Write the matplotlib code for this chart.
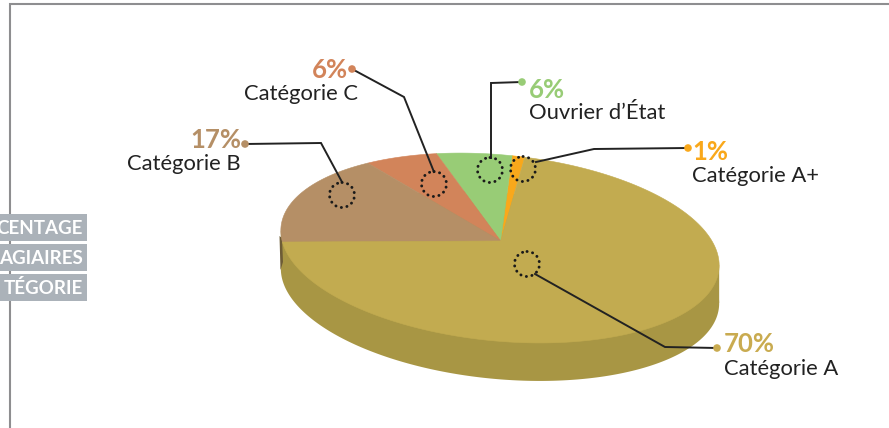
"""Faux 3D pie: share of trainees per category."""

import numpy as np
import matplotlib
matplotlib.use("Agg")
import matplotlib.pyplot as plt
from matplotlib.patches import Circle, Rectangle

# ─── Data ─────────────────────────────────────────────────────────────────────
categories = ["Catégorie A+", "Ouvrier d’État", "Catégorie C", "Catégorie B", "Catégorie A"]
values = [1, 6, 6, 17, 70]
pct_labels = ["1%", "6%", "6%", "17%", "70%"]
box_labels = ["CENTAGE", "AGIAIRES", "TÉGORIE"]

# ─── Style ────────────────────────────────────────────────────────────────────
top_colors = ["#f9a81b", "#98cc76", "#d2845a", "#b58f66", "#c2ab50"]
pct_colors = ["#f9a81b", "#98cc76", "#d2845a", "#b58f66", "#c9ab50"]
WALL = "#a89644"
DARK = "#222222"

# ellipse of the pie top, in pixels
CX, CY = 500, 248
RX, RY = 220, 93
TILT = np.radians(5.5)
DEPTH = 38
K = 0.076           # perspective: moves the apex up from the ellipse centre
START = 85.5        # rim angle where the first slice starts (going counter-clockwise)


def project(theta, radius=1.0):
    """Unit circle -> tilted ellipse with perspective, returns pixel x, y."""
    u = radius * np.cos(theta)
    v = radius * np.sin(theta)
    d = 1 + K * v
    xl = u * np.sqrt(1 - K**2) / d * RX
    yl = (v + K) / d * RY
    return CX + xl * np.cos(TILT) + yl * np.sin(TILT), CY + xl * np.sin(TILT) - yl * np.cos(TILT)


fig = plt.figure(figsize=(8.89, 4.28), dpi=100)
ax = fig.add_axes([0, 0, 1, 1])
ax.set_xlim(0, 889)
ax.set_ylim(428, 0)
ax.axis("off")

# frame
ax.plot([9.5, 9.5, 889], [428, 3.5, 3.5], color="#8e8e90", lw=1.5, solid_joinstyle="miter", zorder=1)

# side wall
t = np.linspace(0, 2 * np.pi, 400)
rx, ry = project(t)
ax.fill(rx, ry + DEPTH, color=WALL, lw=0, zorder=2)
lo, hi = np.argmin(rx), np.argmax(rx)
ax.fill([rx[lo], rx[hi], rx[hi], rx[lo]],
        [ry[lo], ry[hi], ry[hi] + DEPTH, ry[lo] + DEPTH], color=WALL, lw=0, zorder=2)

# small shaded sliver under slice B, at the far left of the wall
sx = np.array([279.5, 282.0, 283.0, 280.5])
ax.fill(sx, [236, 238, 262, 270], color="#6d5c36", lw=0, zorder=2.5)

# top slices, from the values
apex_x, apex_y = project(np.array(0.0), 0.0)
edges = START + np.concatenate([[0], np.cumsum(values)]) * 3.6
for i, col in enumerate(top_colors):
    th = np.radians(np.linspace(edges[i], edges[i + 1], 200))
    x, y = project(th)
    ax.fill(np.r_[apex_x, x], np.r_[apex_y, y], color=col, ec=col, lw=0.4, zorder=3)

# callouts: dot, elbow, dotted circle
dots = [(688, 148), (522, 82), (352, 69), (245, 144), (717, 348)]
elbows = [(594, 149), (491, 83), (404, 97), (321, 143), (665, 347)]
ends = [(536, 162), (491, 158), (434, 172), (342, 182), (535, 274)]
rings = [(523, 169), (490, 170), (434, 184), (342, 195), (527, 264)]
for i in range(5):
    ax.plot([dots[i][0], elbows[i][0], ends[i][0]], [dots[i][1], elbows[i][1], ends[i][1]],
            color=DARK, lw=1.4, solid_joinstyle="miter", zorder=5)
    ax.add_patch(Circle(dots[i], 3.8, fc=pct_colors[i], ec="none", zorder=6))
    ax.add_patch(Circle(rings[i], 12.5, fc="none", ec="#1a1a1a", lw=2.1, capstyle="round",
                        ls=(0, (0.05, 1.9)), zorder=6))

# texts
FONT = "Lato"
pct_pos = [(692, 152, "left"), (529, 90, "left"), (348, 70, "right"), (241, 140, "right"), (724, 344, "left")]
name_pos = [(692, 176, "left"), (529, 113, "left"), (358, 94, "right"), (241, 164, "right"), (724, 369, "left")]
for i in range(5):
    px, py, ha = pct_pos[i]
    ax.text(px, py, pct_labels[i], color=pct_colors[i], fontsize=18.5, fontweight="bold",
            family=FONT, ha=ha, va="center", zorder=7)
    nx, ny, ha = name_pos[i]
    ax.text(nx, ny, categories[i], color=DARK, fontsize=15.8, family=FONT, ha=ha, va="center", zorder=7)

# grey title boxes, cut by the left edge
for top, label in zip([214, 244, 274], box_labels):
    ax.add_patch(Rectangle((0, top), 87, 27, fc="#abb2b9", ec="none", zorder=8))
    ax.text(83, top + 14, label, color="white", fontsize=13.5, fontweight="bold", family=FONT,
            ha="right", va="center", zorder=9)

fig.savefig("out.png", dpi=100)
